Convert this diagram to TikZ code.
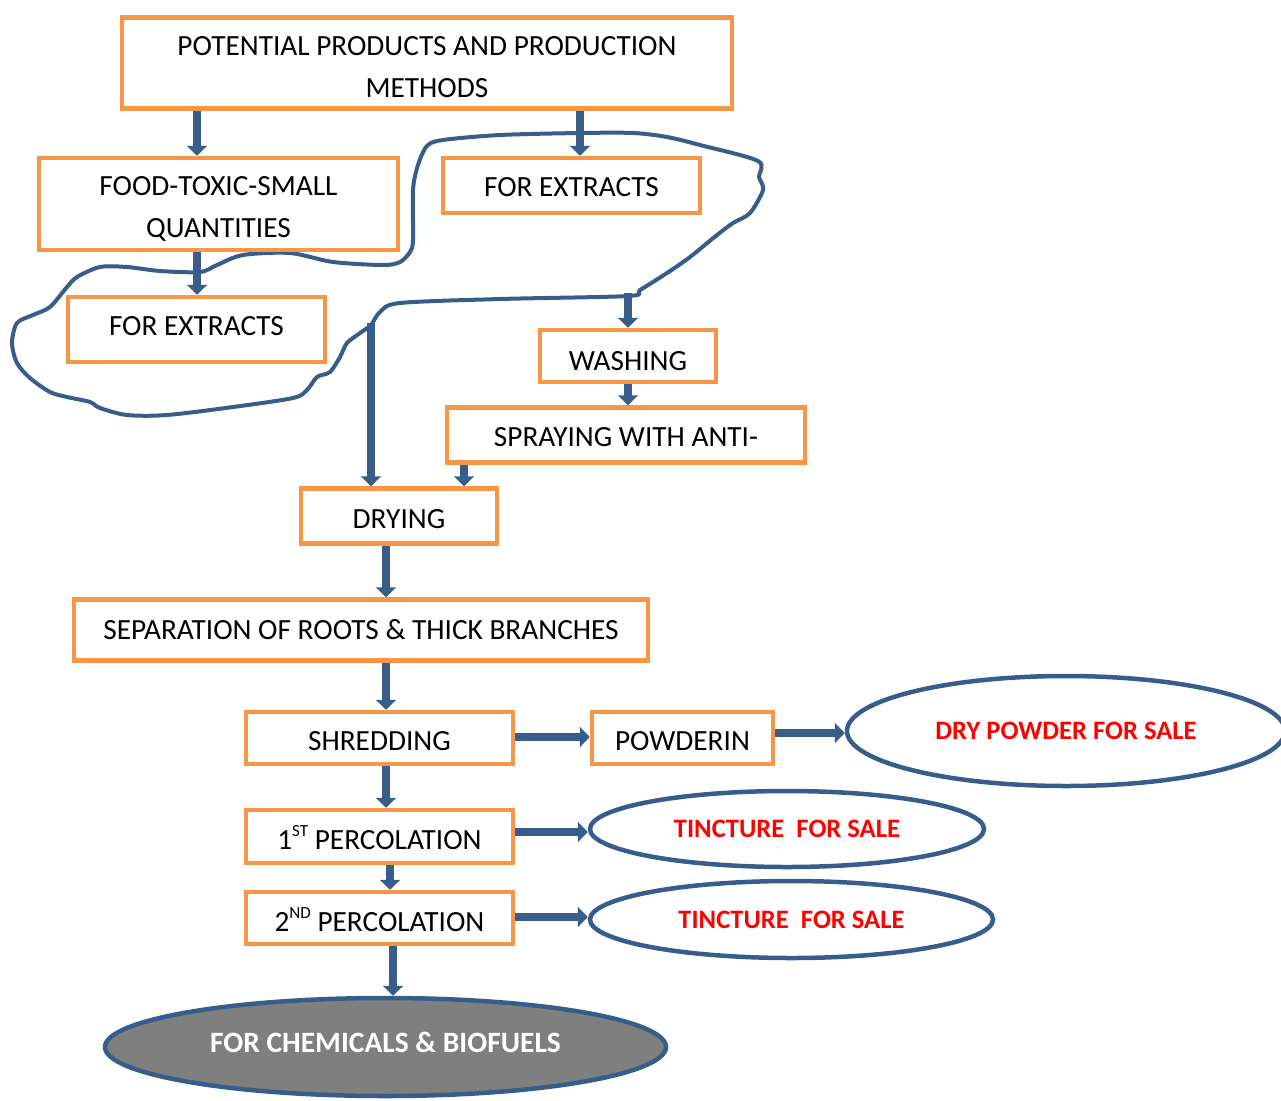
\documentclass[tikz,border=0pt]{standalone}
\usepackage{fontspec}
\setmainfont{Carlito}
\usetikzlibrary{shapes.geometric,arrows.meta}
\definecolor{boxor}{RGB}{247,150,70}
\definecolor{flowblue}{RGB}{56,93,138}
\definecolor{fillgray}{RGB}{127,127,127}
\begin{document}
\begin{tikzpicture}[x=1pt,y=-1pt,
  box/.style={draw=boxor, line width=4.5pt, fill=white, inner sep=0pt,
    font=\fontsize{29.3}{42}\selectfont, text=black},
  oval/.style={ellipse, draw=flowblue, line width=4.5pt, fill=white, inner sep=0pt,
    font=\bfseries\fontsize{26.6}{30}\selectfont, text=red},
  arr/.style={draw=flowblue, line width=8pt, -{Triangle[width=20pt,length=10pt]}},
  loopline/.style={draw=flowblue, line width=4pt, line join=round}]
\useasboundingbox (0,0) rectangle (1281,1100);
\clip (0,0) rectangle (1281,1100);

% freehand loop
\draw[loopline] plot[smooth cycle, tension=0.5] coordinates {
 (371,325) (380,312) (400,303) (500,299) (628,296) (640,290) (667,273) (690,257)
 (717,235) (733,223) (750,213) (763,190) (759,177) (758,161) (700,145) (667,137)
 (633,133) (580,133) (500,135) (443,140) (427,146) (418,165) (413,190) (413,240)
 (410,252) (400,262) (383,265) (333,262) (290,253) (243,255) (217,265) (200,272)
 (160,271) (127,267) (100,267) (77,277) (67,287) (50,307) (33,315) (17,323)
 (12,343) (17,363) (30,378) (50,392) (67,397) (90,402) (100,408) (127,415)
 (167,415) (233,407) (293,398) (307,390) (317,377) (330,372) (340,357) (347,343)
 (360,333)};

% boxes
\node[box, minimum width=610pt, minimum height=91pt, text height=68.9pt, text depth=0pt] (b1) at (427,63)
  {\begin{tabular}[b]{@{}c@{}}POTENTIAL PRODUCTS AND PRODUCTION\\METHODS\end{tabular}};
\node[box, minimum width=359pt, minimum height=92pt, text height=67.4pt, text depth=0pt] (b2) at (218.5,204)
  {\begin{tabular}[b]{@{}c@{}}FOOD-TOXIC-SMALL\\QUANTITIES\end{tabular}};
\node[box, minimum width=257pt, minimum height=55pt, text height=21.5pt, text depth=0pt] (b3) at (571.5,185.5) {FOR EXTRACTS};
\node[box, minimum width=257pt, minimum height=65pt, text height=18.5pt, text depth=7pt] (b4) at (196.5,329.5) {FOR EXTRACTS};
\node[box, minimum width=176pt, minimum height=52pt, text height=28pt, text depth=0pt] (wash) at (628,356) {WASHING};
\node[box, minimum width=358pt, minimum height=55pt, text height=22pt, text depth=0pt] (spray) at (626,435) {SPRAYING WITH ANTI-};
\node[box, minimum width=196pt, minimum height=55pt, text height=25.5pt, text depth=0pt] (dry) at (399,516) {DRYING};
\node[box, minimum width=574pt, minimum height=61pt, text height=19.5pt, text depth=0pt] (sep) at (361,630)
  {SEPARATION OF ROOTS \& THICK BRANCHES};
\node[box, minimum width=267pt, minimum height=52pt, text height=24.5pt, text depth=0pt] (shred) at (379.5,738) {SHREDDING};
\node[box, minimum width=181pt, minimum height=52pt, text height=24.5pt, text depth=0pt] (powd) at (682.5,738) {POWDERIN};
\node[box, minimum width=267pt, minimum height=53pt, text height=25.5pt, text depth=0pt] (perc1) at (379.5,836.5)
  {1\raisebox{0.42em}{\fontsize{17}{17}\selectfont ST} PERCOLATION};
\node[box, minimum width=267pt, minimum height=52pt, text height=26.5pt, text depth=0pt] (perc2) at (379.5,918)
  {2\raisebox{0.42em}{\fontsize{17}{17}\selectfont ND} PERCOLATION};

% ellipses
\node[oval, minimum width=438pt, minimum height=110pt] (dryp) at (1066,731) {DRY POWDER FOR SALE};
\node[oval, minimum width=394pt, minimum height=76pt] (tinc1) at (787,829) {TINCTURE\ \ FOR SALE};
\node[oval, minimum width=403pt, minimum height=77pt] (tinc2) at (791.5,919.5) {TINCTURE\ \ FOR SALE};
\node[oval, fill=fillgray, text=white, font=\bfseries\fontsize{29.5}{32}\selectfont,
  text height=18.6pt, text depth=8pt, minimum width=561pt, minimum height=98pt] (chem) at (385.5,1047)
  {FOR CHEMICALS \& BIOFUELS};

% helper coordinates
\coordinate (x197) at (197,0);
\coordinate (x580) at (580,0);
\coordinate (x628) at (628,0);
\coordinate (x464) at (464,0);
\coordinate (x371) at (371,0);
\coordinate (x386) at (386,0);
\coordinate (x390) at (390,0);
\coordinate (x393) at (393,0);
\coordinate (y737) at (0,737);
\coordinate (y733) at (0,733);
\coordinate (y832) at (0,832);
\coordinate (y917) at (0,917);
\coordinate (wstart) at (628,293);
\coordinate (dstart) at (371,323);

% connectors
\draw[arr] (b1.south -| x197) -- (b2.north -| x197);
\draw[arr] (b1.south -| x580) -- (b3.north -| x580);
\draw[arr] (b2.south -| x197) -- (b4.north -| x197);
\draw[arr] (wstart) -- (wash.north -| x628);
\draw[arr] (wash.south -| x628) -- (spray.north -| x628);
\draw[arr] (spray.south -| x464) -- (dry.north -| x464);
\draw[arr] (dstart) -- (dry.north -| x371);
\draw[arr] (dry.south -| x386) -- (sep.north -| x386);
\draw[arr] (sep.south -| x386) -- (shred.north -| x386);
\draw[arr] (shred.south -| x386) -- (perc1.north -| x386);
\draw[arr] (perc1.south -| x390) -- (perc2.north -| x390);
\draw[arr] (perc2.south -| x393) -- (chem.north -| x393);
\draw[arr] (shred.east |- y737) -- (powd.west |- y737);
\draw[arr] (powd.east |- y733) -- (dryp.west |- y733);
\draw[arr] (perc1.east |- y832) -- (tinc1.west |- y832);
\draw[arr] (perc2.east |- y917) -- (tinc2.west |- y917);
\end{tikzpicture}
\end{document}
